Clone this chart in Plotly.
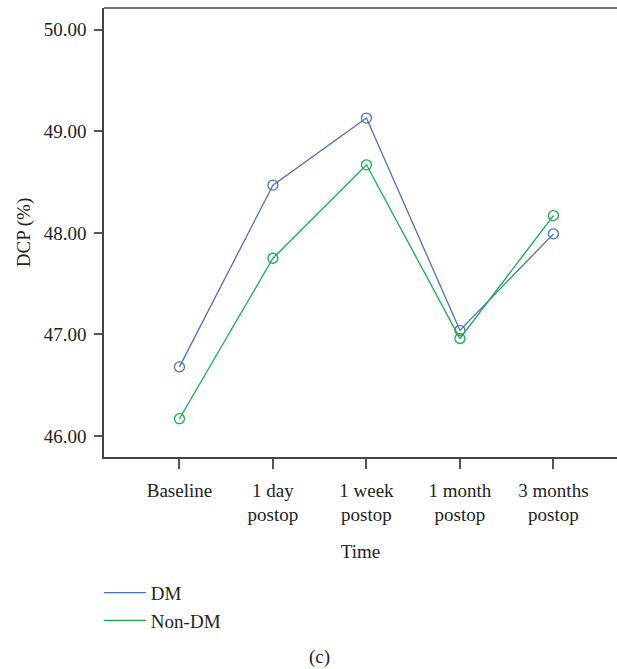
import plotly.graph_objects as go

categories = ["Baseline<br>", "1 day<br>postop", "1 week<br>postop", "1 month<br>postop", "3 months<br>postop"]
dm_values = [46.68, 48.47, 49.13, 47.04, 47.99]
nondm_values = [46.17, 47.75, 48.67, 46.96, 48.17]
y_ticks = [46, 47, 48, 49, 50]
y_tick_labels = ["46.00", "47.00", "48.00", "49.00", "50.00"]

BLUE = "#4a72c2"
GREEN = "#12b04c"
FONT = "Liberation Serif"
FS = 19
xi = list(range(len(categories)))

fig = go.Figure()
for vals, col, name in [(dm_values, BLUE, "DM"), (nondm_values, GREEN, "Non-DM")]:
    fig.add_trace(go.Scatter(
        x=xi, y=vals, mode="lines+markers", showlegend=False,
        line=dict(color=col, width=1.3),
        marker=dict(symbol="circle-open", size=10, color=col, line=dict(width=1.3)),
    ))
for col, name in [(BLUE, "DM"), (GREEN, "Non-DM")]:
    fig.add_trace(go.Scatter(
        x=[None], y=[None], mode="lines", name=name,
        line=dict(color=col, width=1.3),
    ))

fig.update_layout(
    width=617, height=669,
    margin=dict(l=104, r=0, t=8, b=212),
    plot_bgcolor="white", paper_bgcolor="white",
    font=dict(family=FONT, size=FS, color="#222"),
    showlegend=True,
    legend=dict(x=-0.01, xanchor="left", y=-0.26, yanchor="top",
                font=dict(size=FS), tracegroupgap=0, itemwidth=42,
                bgcolor="rgba(0,0,0,0)"),
    annotations=[dict(text="(c)", x=(319 - 104) / 513, y=-(657 - 457) / 449,
                      xref="paper", yref="paper", xanchor="center", yanchor="middle",
                      showarrow=False, font=dict(size=FS))],
)

fig.update_xaxes(
    range=[-0.807, 4.68], tickvals=xi, ticktext=categories,
    showline=True, linecolor="#444", linewidth=1.5, mirror=False,
    ticks="outside", ticklen=10, tickcolor="#555", tickwidth=1.5,
    ticklabelstandoff=5,
    showgrid=False, zeroline=False,
    title=dict(text="Time", font=dict(size=FS), standoff=20),
)
fig.update_yaxes(
    range=[45.793, 50.214], tickvals=y_ticks, ticktext=y_tick_labels,
    showline=True, linecolor="#444", linewidth=1.5,
    ticks="outside", ticklen=8, tickcolor="#555", tickwidth=1.5,
    ticklabelstandoff=4,
    showgrid=False, zeroline=False,
    title=dict(text="DCP (%)", font=dict(size=FS), standoff=8),
)
# top border line
fig.add_shape(type="line", xref="paper", yref="paper", x0=0, x1=1, y0=1, y1=1,
              line=dict(color="#444", width=1.5))

fig.write_html("out.html")
